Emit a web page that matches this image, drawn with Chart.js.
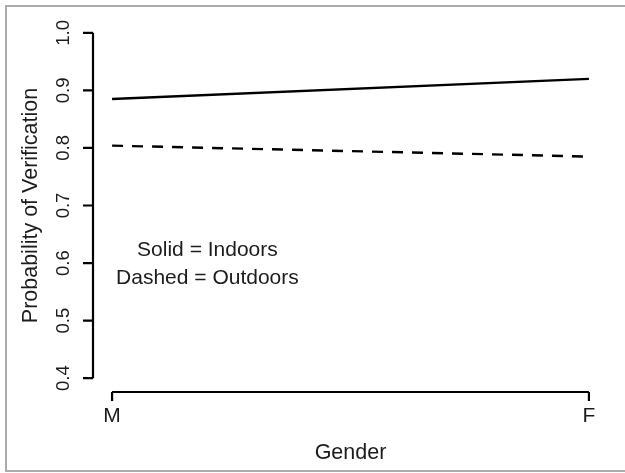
<!DOCTYPE html>
<html lang="en">
<head>
    <meta charset="UTF-8">
    <title>Probability of Verification by Gender</title>
    <style>
        body {
            margin: 0;
            padding: 0;
            background-color: white;
        }
        #wrap {
            width: 625px;
            height: 473px;
        }
    </style>
    <script src="https://cdn.jsdelivr.net/npm/chart.js"></script>
</head>
<body>
    <div id="wrap">
        <canvas id="verifChart" width="625" height="473"></canvas>
    </div>

    <script>
        // Data
        const genders = ['M', 'F'];
        const genderPos = [1, 2];
        const indoors = [0.885, 0.92];   // solid
        const outdoors = [0.804, 0.785]; // dashed
        const yTicks = [0.4, 0.5, 0.6, 0.7, 0.8, 0.9, 1.0];

        const FONT = '"Liberation Sans", Arial, Helvetica, sans-serif';
        const INK = '#1c1c1c';

        function points(vals) {
            return vals.map((v, i) => ({ x: genderPos[i], y: v }));
        }

        // R-style axes, labels and note, drawn from the chart's scales
        const baseAxes = {
            id: 'baseAxes',
            beforeDraw(chart) {
                const ctx = chart.ctx;
                ctx.save();
                ctx.fillStyle = '#fff';
                ctx.fillRect(0, 0, chart.width, chart.height);
                // outer frame
                ctx.strokeStyle = '#ababab';
                ctx.lineWidth = 2;
                ctx.beginPath();
                ctx.moveTo(chart.width, 6);
                ctx.lineTo(6, 6);
                ctx.lineTo(6, 471);
                ctx.lineTo(chart.width, 471);
                ctx.stroke();
                ctx.restore();
            },
            afterDraw(chart) {
                const ctx = chart.ctx;
                const xs = chart.scales.x;
                const ys = chart.scales.y;
                const area = chart.chartArea;
                ctx.save();
                ctx.strokeStyle = '#000';
                ctx.fillStyle = INK;
                ctx.lineWidth = 2.2;
                ctx.lineCap = 'butt';

                // y axis
                const x0 = area.left;
                ctx.beginPath();
                ctx.moveTo(x0, ys.getPixelForValue(yTicks[0]));
                ctx.lineTo(x0, ys.getPixelForValue(yTicks[yTicks.length - 1]));
                yTicks.forEach(t => {
                    const py = ys.getPixelForValue(t);
                    ctx.moveTo(x0 - 10, py);
                    ctx.lineTo(x0, py);
                });
                ctx.stroke();
                ctx.font = '18.5px ' + FONT;
                ctx.textAlign = 'center';
                ctx.textBaseline = 'middle';
                yTicks.forEach(t => {
                    const py = ys.getPixelForValue(t);
                    ctx.save();
                    ctx.translate(x0 - 29, py);
                    ctx.rotate(-Math.PI / 2);
                    ctx.fillText(t.toFixed(1), 0, 0);
                    ctx.restore();
                });

                // x axis
                const y0 = area.bottom;
                ctx.beginPath();
                ctx.moveTo(xs.getPixelForValue(genderPos[0]), y0);
                ctx.lineTo(xs.getPixelForValue(genderPos[genderPos.length - 1]), y0);
                genderPos.forEach(p => {
                    const px = xs.getPixelForValue(p);
                    ctx.moveTo(px, y0);
                    ctx.lineTo(px, y0 + 9);
                });
                ctx.stroke();
                ctx.font = '21px ' + FONT;
                genders.forEach((g, i) => {
                    ctx.fillText(g, xs.getPixelForValue(genderPos[i]), y0 + 24);
                });

                // axis titles
                ctx.font = '21.5px ' + FONT;
                ctx.fillText('Gender', (area.left + area.right) / 2, 453);
                ctx.save();
                ctx.translate(31, (area.top + area.bottom) / 2);
                ctx.rotate(-Math.PI / 2);
                ctx.fillText('Probability of Verification', 0, 0);
                ctx.restore();

                // line key note
                ctx.font = '21px ' + FONT;
                const nx = xs.getPixelForValue(1.2);
                const ny = ys.getPixelForValue(0.6);
                ctx.fillText('Solid = Indoors', nx, ny - 13);
                ctx.fillText('Dashed = Outdoors', nx, ny + 15);
                ctx.restore();
            }
        };

        new Chart(document.getElementById('verifChart'), {
            type: 'line',
            data: {
                datasets: [
                    {
                        label: 'Indoors',
                        data: points(indoors),
                        borderColor: '#000',
                        borderWidth: 2.4,
                        pointRadius: 0,
                        fill: false
                    },
                    {
                        label: 'Outdoors',
                        data: points(outdoors),
                        borderColor: '#000',
                        borderWidth: 2.4,
                        borderDash: [11, 9],
                        pointRadius: 0,
                        fill: false
                    }
                ]
            },
            options: {
                responsive: false,
                animation: false,
                layout: {
                    padding: { left: 93, top: 19, right: 17, bottom: 81 }
                },
                scales: {
                    x: { type: 'linear', min: 0.96, max: 2.04, display: false },
                    y: { type: 'linear', min: 0.376, max: 1.024, display: false }
                },
                plugins: {
                    legend: { display: false },
                    tooltip: { enabled: false }
                }
            },
            plugins: [baseAxes]
        });
    </script>
</body>
</html>
